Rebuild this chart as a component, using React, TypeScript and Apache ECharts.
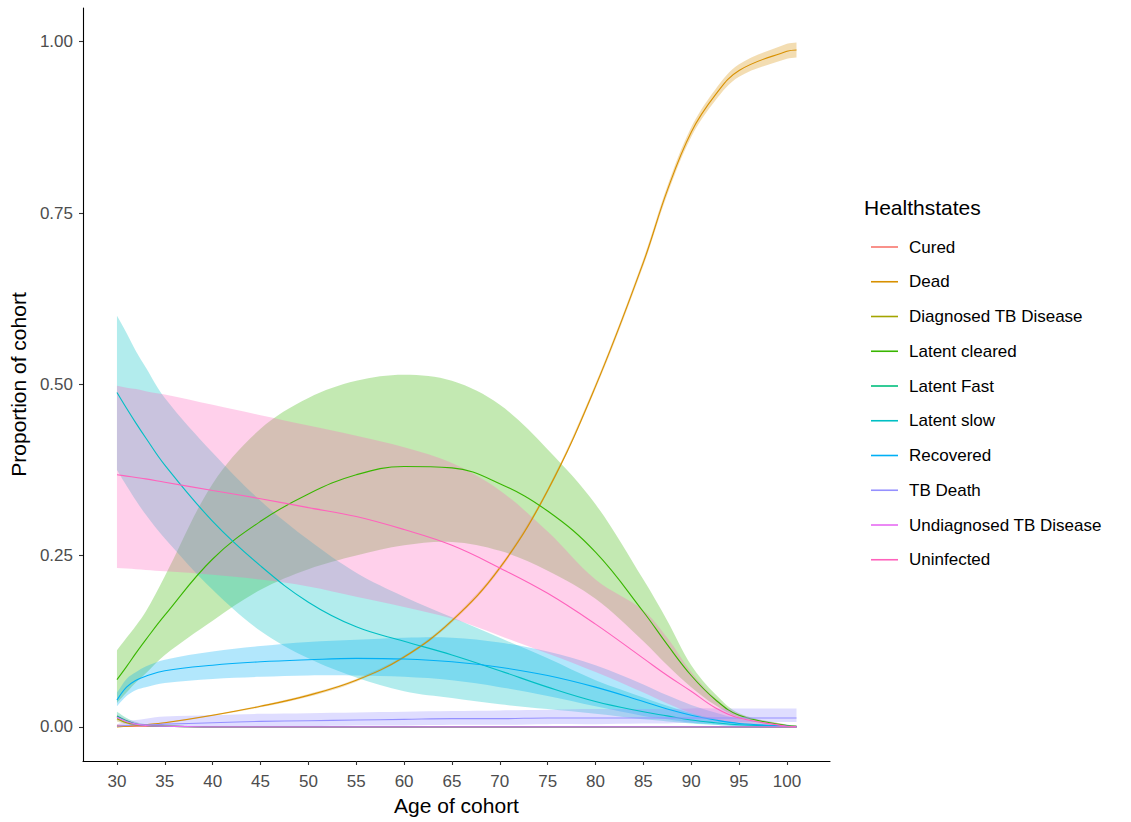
import React, { useEffect, useRef } from "react";
import * as echarts from "echarts";

// ---- data ----
const AGES = [30, 31, 32, 33, 35, 40, 45, 50, 55, 60, 65, 70, 75, 80, 85, 87.5, 90, 92.5, 95, 100, 101];

const X_TICKS = [30, 35, 40, 45, 50, 55, 60, 65, 70, 75, 80, 85, 90, 95, 100];
const Y_TICKS = [0, 0.25, 0.5, 0.75, 1.0];

const STATES = [
  "Cured",
  "Dead",
  "Diagnosed TB Disease",
  "Latent cleared",
  "Latent Fast",
  "Latent slow",
  "Recovered",
  "TB Death",
  "Undiagnosed TB Disease",
  "Uninfected",
];

const COLORS = ["#F8766D", "#D89000", "#A3A500", "#39B600", "#00BF7D", "#00BFC4", "#00B0F6", "#9590FF", "#E76BF3", "#FF62BC"];

const CURED = [0.002, 0.001, 0.001, 0.001, 0.001, 0, 0, 0, 0, 0, 0, 0, 0, 0, 0, 0, 0, 0, 0, 0, 0];
const CURED_LO = [0, 0, 0, 0, 0, 0, 0, 0, 0, 0, 0, 0, 0, 0, 0, 0, 0, 0, 0, 0, 0];
const CURED_HI = [0.004, 0.003, 0.002, 0.002, 0.001, 0.001, 0.001, 0.001, 0.001, 0.001, 0.001, 0.001, 0.001, 0.001, 0.001, 0.001, 0.001, 0.001, 0.001, 0.001, 0.001];

const DEAD = [0, 0.001, 0.002, 0.003, 0.006, 0.017, 0.03, 0.046, 0.068, 0.102, 0.155, 0.232, 0.345, 0.497, 0.678, 0.783, 0.868, 0.922, 0.958, 0.986, 0.988];
const DEAD_LO = [0, 0, 0.001, 0.002, 0.005, 0.016, 0.0285, 0.044, 0.066, 0.1, 0.1525, 0.229, 0.342, 0.493, 0.673, 0.777, 0.861, 0.914, 0.949, 0.975, 0.977];
const DEAD_HI = [0.001, 0.002, 0.003, 0.004, 0.007, 0.018, 0.0315, 0.048, 0.07, 0.104, 0.1575, 0.235, 0.348, 0.501, 0.683, 0.789, 0.875, 0.93, 0.967, 0.997, 0.999];

const DIAG = [0.012, 0.006, 0.003, 0.002, 0.001, 0, 0, 0, 0, 0, 0, 0, 0, 0, 0, 0, 0, 0, 0, 0, 0];
const DIAG_LO = [0.008, 0.004, 0.002, 0.001, 0, 0, 0, 0, 0, 0, 0, 0, 0, 0, 0, 0, 0, 0, 0, 0, 0];
const DIAG_HI = [0.016, 0.009, 0.005, 0.003, 0.002, 0.001, 0, 0, 0, 0, 0, 0, 0, 0, 0, 0, 0, 0, 0, 0, 0];

const LCLEAR = [0.069, 0.088, 0.108, 0.127, 0.163, 0.245, 0.3, 0.34, 0.368, 0.38, 0.378, 0.355, 0.315, 0.255, 0.168, 0.12, 0.075, 0.04, 0.017, 0.002, 0.001];
const LCLEAR_LO = [0.035, 0.05, 0.065, 0.078, 0.105, 0.155, 0.2, 0.23, 0.25, 0.265, 0.27, 0.257, 0.228, 0.187, 0.125, 0.09, 0.058, 0.032, 0.014, 0.001, 0.0005];
const LCLEAR_HI = [0.112, 0.13, 0.148, 0.168, 0.22, 0.355, 0.435, 0.48, 0.505, 0.514, 0.505, 0.47, 0.405, 0.325, 0.215, 0.155, 0.09, 0.048, 0.02, 0.003, 0.002];

const LFAST = [0.016, 0.009, 0.004, 0.002, 0.001, 0, 0, 0, 0, 0, 0, 0, 0, 0, 0, 0, 0, 0, 0, 0, 0];
const LFAST_LO = [0.012, 0.006, 0.002, 0.001, 0, 0, 0, 0, 0, 0, 0, 0, 0, 0, 0, 0, 0, 0, 0, 0, 0];
const LFAST_HI = [0.022, 0.013, 0.007, 0.004, 0.002, 0.001, 0, 0, 0, 0, 0, 0, 0, 0, 0, 0, 0, 0, 0, 0, 0];

const LSLOW = [0.488, 0.465, 0.443, 0.422, 0.382, 0.3, 0.235, 0.182, 0.146, 0.125, 0.105, 0.082, 0.058, 0.037, 0.022, 0.016, 0.01, 0.006, 0.003, 0.001, 0];
const LSLOW_LO = [0.375, 0.352, 0.33, 0.31, 0.275, 0.2, 0.14, 0.1, 0.072, 0.052, 0.042, 0.033, 0.026, 0.019, 0.011, 0.008, 0.005, 0.003, 0.001, 0, 0];
const LSLOW_HI = [0.6, 0.575, 0.548, 0.525, 0.48, 0.4, 0.33, 0.273, 0.225, 0.19, 0.16, 0.13, 0.1, 0.068, 0.043, 0.031, 0.02, 0.012, 0.006, 0.002, 0.001];

const RECOV = [0.039, 0.058, 0.068, 0.074, 0.082, 0.09, 0.095, 0.098, 0.1, 0.099, 0.095, 0.087, 0.075, 0.058, 0.037, 0.026, 0.017, 0.01, 0.005, 0.001, 0.0005];
const RECOV_LO = [0.03, 0.045, 0.054, 0.058, 0.064, 0.07, 0.073, 0.075, 0.075, 0.073, 0.068, 0.058, 0.045, 0.03, 0.016, 0.011, 0.006, 0.003, 0.001, 0, 0];
const RECOV_HI = [0.05, 0.07, 0.08, 0.088, 0.098, 0.11, 0.118, 0.124, 0.127, 0.13, 0.13, 0.123, 0.11, 0.09, 0.062, 0.046, 0.032, 0.021, 0.012, 0.003, 0.002];

const TBDEATH = [0.001, 0.002, 0.003, 0.003, 0.004, 0.006, 0.008, 0.009, 0.01, 0.011, 0.012, 0.012, 0.013, 0.013, 0.013, 0.013, 0.013, 0.013, 0.013, 0.013, 0.013];
const TBDEATH_LO = [0, 0, 0, 0, 0, 0, 0.001, 0.001, 0.002, 0.002, 0.003, 0.003, 0.004, 0.004, 0.005, 0.005, 0.006, 0.006, 0.007, 0.007, 0.007];
const TBDEATH_HI = [0.004, 0.008, 0.01, 0.012, 0.015, 0.017, 0.019, 0.02, 0.021, 0.022, 0.023, 0.024, 0.025, 0.026, 0.026, 0.026, 0.027, 0.027, 0.027, 0.027, 0.027];

const UNDIAG = [0.014, 0.008, 0.004, 0.002, 0.001, 0, 0, 0, 0, 0, 0, 0, 0, 0, 0, 0, 0, 0, 0, 0, 0];
const UNDIAG_LO = [0.01, 0.005, 0.002, 0.001, 0, 0, 0, 0, 0, 0, 0, 0, 0, 0, 0, 0, 0, 0, 0, 0, 0];
const UNDIAG_HI = [0.018, 0.011, 0.006, 0.003, 0.002, 0.001, 0, 0, 0, 0, 0, 0, 0, 0, 0, 0, 0, 0, 0, 0, 0];

const UNINF = [0.368, 0.366, 0.364, 0.362, 0.357, 0.345, 0.333, 0.32, 0.307, 0.288, 0.265, 0.232, 0.195, 0.15, 0.1, 0.075, 0.052, 0.028, 0.013, 0.001, 0];
const UNINF_LO = [0.232, 0.231, 0.23, 0.229, 0.227, 0.222, 0.215, 0.205, 0.19, 0.175, 0.158, 0.133, 0.107, 0.08, 0.05, 0.034, 0.02, 0.01, 0.005, 0, 0];
const UNINF_HI = [0.498, 0.495, 0.493, 0.49, 0.485, 0.47, 0.455, 0.44, 0.425, 0.408, 0.385, 0.345, 0.285, 0.215, 0.17, 0.13, 0.08, 0.042, 0.018, 0.003, 0.002];

const MEANS = [CURED, DEAD, DIAG, LCLEAR, LFAST, LSLOW, RECOV, TBDEATH, UNDIAG, UNINF];
const LOWS = [CURED_LO, DEAD_LO, DIAG_LO, LCLEAR_LO, LFAST_LO, LSLOW_LO, RECOV_LO, TBDEATH_LO, UNDIAG_LO, UNINF_LO];
const HIGHS = [CURED_HI, DEAD_HI, DIAG_HI, LCLEAR_HI, LFAST_HI, LSLOW_HI, RECOV_HI, TBDEATH_HI, UNDIAG_HI, UNINF_HI];

const FONT = "'Liberation Sans', Arial, sans-serif";
const LINE_SMOOTH = 0.4;
const BAND_SMOOTH = 0.35;

function buildOption() {
  const bandSeries: any[] = [];
  const lineSeries: any[] = [];
  STATES.forEach((name, i) => {
    const lo = LOWS[i];
    const hi = HIGHS[i];
    const color = COLORS[i];
    bandSeries.push({
      type: "custom",
      name: name + " ribbon",
      coordinateSystem: "cartesian2d",
      data: AGES.map((a, k) => [a, lo[k], hi[k]]),
      encode: { x: 0, y: [1, 2] },
      silent: true,
      clip: true,
      z: 1,
      renderItem: (params: any, api: any) => {
        if (params.dataIndex !== 0) return null;
        const up = AGES.map((a, k) => api.coord([a, hi[k]]));
        const dn = AGES.map((a, k) => api.coord([a, lo[k]])).reverse();
        const n = up.length;
        // duplicated corner points keep the ends of the ribbon square
        const pts = [up[0], ...up, up[n - 1], dn[0], ...dn, dn[n - 1]];
        return {
          type: "polygon",
          shape: { points: pts, smooth: BAND_SMOOTH },
          style: { fill: color, opacity: 0.3, stroke: null },
        };
      },
    });
    lineSeries.push({
      type: "line",
      name,
      data: AGES.map((a, k) => [a, MEANS[i][k]]),
      symbol: "none",
      smooth: LINE_SMOOTH,
      color,
      lineStyle: { color, width: 1.1 },
      z: 3,
    });
  });

  return {
    animation: false,
    backgroundColor: "#ffffff",
    textStyle: { fontFamily: FONT },
    grid: { left: 82, right: 301, top: 8, bottom: 61, containLabel: false },
    xAxis: {
      type: "value",
      min: 26.45,
      max: 104.5,
      name: "Age of cohort",
      nameLocation: "middle",
      nameGap: 34,
      nameTextStyle: { fontSize: 21, color: "#000000", fontFamily: FONT },
      axisLine: { show: true, onZero: false, lineStyle: { color: "#000000", width: 1.1 } },
      axisTick: { show: true, length: 4, lineStyle: { color: "#333333", width: 1.1 }, customValues: X_TICKS },
      axisLabel: { fontSize: 17, color: "#4D4D4D", margin: 12, fontFamily: FONT, customValues: X_TICKS },
      splitLine: { show: false },
    },
    yAxis: {
      type: "value",
      min: -0.0498,
      max: 1.0492,
      name: "Proportion of cohort",
      nameLocation: "middle",
      nameGap: 52,
      nameRotate: 90,
      nameTextStyle: { fontSize: 21, color: "#000000", fontFamily: FONT },
      axisLine: { show: true, onZero: false, lineStyle: { color: "#000000", width: 1.1 } },
      axisTick: { show: true, length: 4, lineStyle: { color: "#333333", width: 1.1 }, customValues: Y_TICKS },
      axisLabel: {
        fontSize: 17,
        color: "#4D4D4D",
        margin: 10,
        fontFamily: FONT,
        customValues: Y_TICKS,
        formatter: (v: number) => v.toFixed(2),
      },
      splitLine: { show: false },
    },
    legend: {
      data: STATES,
      orient: "vertical",
      left: 866,
      top: 232,
      icon: "rect",
      itemWidth: 27,
      itemHeight: 1.6,
      itemGap: 14.75,
      selectedMode: false,
      textStyle: { fontSize: 17, color: "#000000", fontFamily: FONT, lineHeight: 20, padding: [0, 0, 0, 6] },
    },
    graphic: [
      {
        type: "text",
        left: 864,
        top: 197,
        style: { text: "Healthstates", fontSize: 21, fill: "#000000", fontFamily: FONT },
      },
    ],
    series: [...bandSeries, ...lineSeries],
  };
}

export default function App() {
  const ref = useRef<HTMLDivElement>(null);
  useEffect(() => {
    if (!ref.current) return;
    const chart = echarts.init(ref.current, undefined, { renderer: "svg" });
    chart.setOption(buildOption() as any);
    return () => chart.dispose();
  }, []);
  return (
    <div
      ref={ref}
      style={{ position: "absolute", left: 0, top: 0, width: 1131, height: 822, background: "#fff" }}
    />
  );
}
